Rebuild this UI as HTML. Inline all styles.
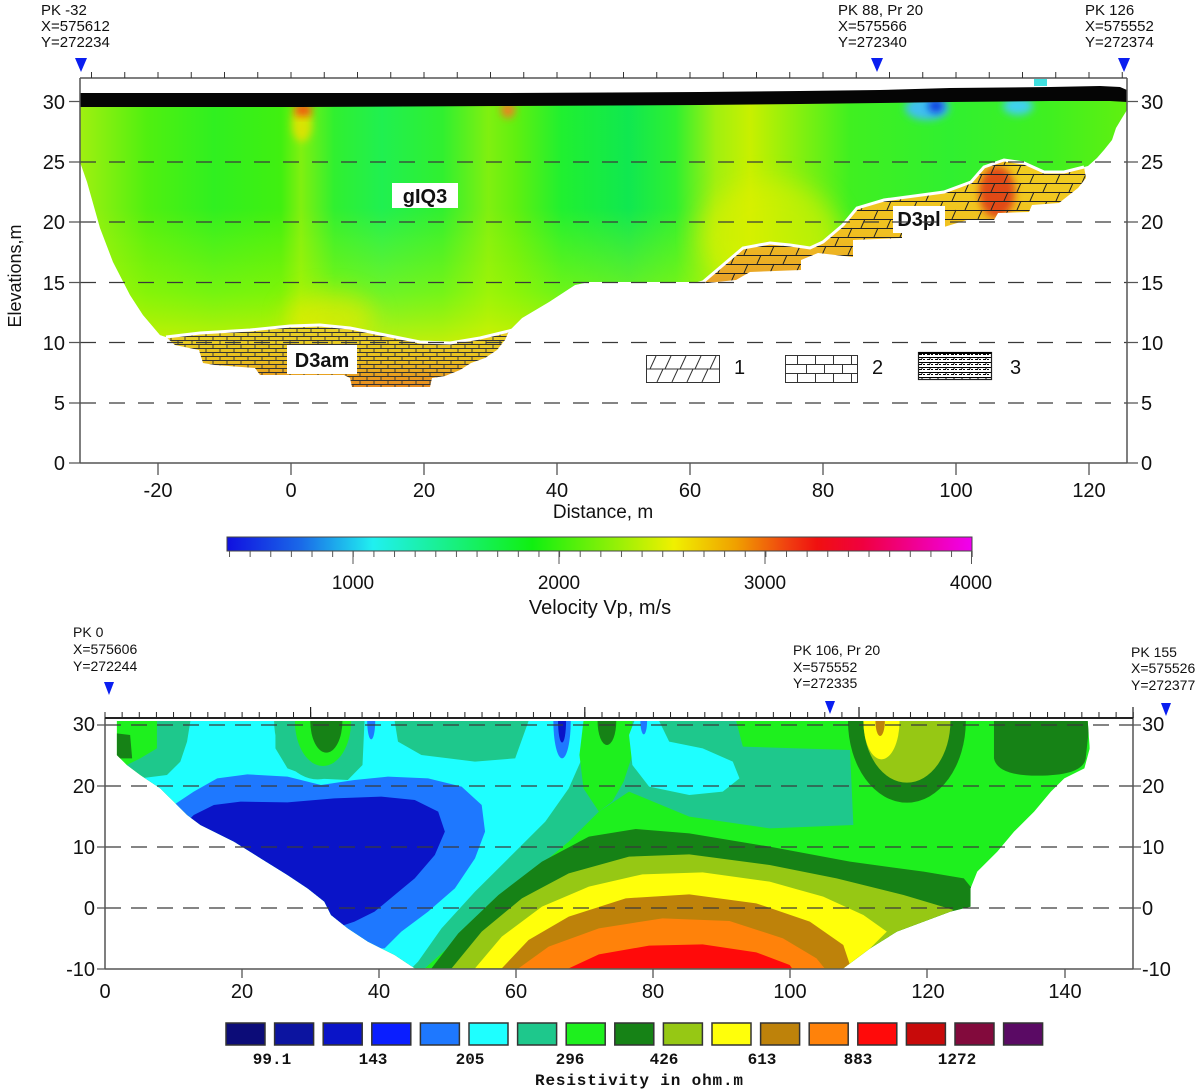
<!DOCTYPE html>
<html><head><meta charset="utf-8"><style>
html,body{margin:0;padding:0;background:#fff;}
svg{display:block;}
text{font-family:"Liberation Sans",Arial,sans-serif;fill:#111;}
.m{font-family:"Liberation Mono",monospace;font-weight:bold;}
</style></head><body>
<svg width="1200" height="1092" viewBox="0 0 1200 1092" xmlns="http://www.w3.org/2000/svg">
<defs>
<linearGradient id="gh" gradientUnits="userSpaceOnUse" x1="80" y1="0" x2="1127" y2="0">
<stop offset="0" stop-color="#a0f010"/><stop offset="0.064" stop-color="#50f010"/><stop offset="0.128" stop-color="#30f020"/>
<stop offset="0.192" stop-color="#40f010"/><stop offset="0.211" stop-color="#80f010"/><stop offset="0.243" stop-color="#30f030"/>
<stop offset="0.288" stop-color="#20f050"/><stop offset="0.346" stop-color="#30f030"/><stop offset="0.39" stop-color="#80f010"/>
<stop offset="0.416" stop-color="#60f010"/><stop offset="0.46" stop-color="#20f030"/><stop offset="0.524" stop-color="#10e850"/>
<stop offset="0.569" stop-color="#30f030"/><stop offset="0.607" stop-color="#a0f010"/><stop offset="0.64" stop-color="#c8f000"/>
<stop offset="0.69" stop-color="#80f010"/><stop offset="0.735" stop-color="#40f020"/><stop offset="0.831" stop-color="#30f030"/>
<stop offset="0.927" stop-color="#40f020"/><stop offset="1" stop-color="#60f010"/>
</linearGradient>
<linearGradient id="gv" gradientUnits="userSpaceOnUse" x1="0" y1="100" x2="0" y2="340">
<stop offset="0" stop-color="#c0f800" stop-opacity="0"/><stop offset="0.45" stop-color="#c0f800" stop-opacity="0"/>
<stop offset="0.8" stop-color="#b8f800" stop-opacity="0.5"/><stop offset="1" stop-color="#e0f000" stop-opacity="0.8"/>
</linearGradient>
<linearGradient id="gam" x1="0" y1="0" x2="0" y2="1">
<stop offset="0" stop-color="#e8d428"/><stop offset="0.55" stop-color="#e8c020"/><stop offset="1" stop-color="#e88a20"/>
</linearGradient>
<linearGradient id="gpl" x1="0" y1="0" x2="0" y2="1">
<stop offset="0" stop-color="#f0d020"/><stop offset="0.6" stop-color="#f0c020"/><stop offset="1" stop-color="#e8a028"/>
</linearGradient>
<linearGradient id="cbar" x1="0" y1="0" x2="1" y2="0">
<stop offset="0" stop-color="#1010e0"/><stop offset="0.1" stop-color="#1a6ae8"/><stop offset="0.196" stop-color="#20f0f0"/>
<stop offset="0.41" stop-color="#10f010"/><stop offset="0.6" stop-color="#f0f000"/><stop offset="0.683" stop-color="#f0a000"/>
<stop offset="0.752" stop-color="#f04010"/><stop offset="0.792" stop-color="#f01010"/><stop offset="0.854" stop-color="#f00040"/>
<stop offset="1" stop-color="#f000f0"/>
</linearGradient>
<filter id="bl" x="-50%" y="-50%" width="200%" height="200%"><feGaussianBlur stdDeviation="4"/></filter>
<filter id="bl2" x="-50%" y="-50%" width="200%" height="200%"><feGaussianBlur stdDeviation="12"/></filter>
<pattern id="p1" patternUnits="userSpaceOnUse" width="26" height="18" x="0" y="3">
<path d="M0,0.5H26M0,9.5H26M3,9L7,0M16,18L20,9" stroke="#222" stroke-width="1" fill="none"/></pattern>
<pattern id="p3" patternUnits="userSpaceOnUse" width="14" height="8" x="0" y="0">
<path d="M0,0.5H14M0,4.5H14M3,0.5V4.5M10,4.5V8.5" stroke="#333" stroke-width="0.9" fill="none"/></pattern>
<pattern id="p4" patternUnits="userSpaceOnUse" width="8" height="5" x="918" y="352">
<rect width="8" height="5" fill="#fff"/><path d="M0,0.5H8M1,2.5H4M5,2.5H7M4,0V2" stroke="#000" stroke-width="1"/></pattern>
<pattern id="tk1" patternUnits="userSpaceOnUse" width="33.25" height="10" x="91" y="0">
<rect x="0" y="0" width="1" height="10" fill="#333"/></pattern>
<pattern id="tk2" patternUnits="userSpaceOnUse" width="17.1375" height="10" x="104.5" y="0">
<rect x="0" y="0" width="1" height="10" fill="#222"/></pattern>
<pattern id="tk3" patternUnits="userSpaceOnUse" width="20.63" height="10" x="229" y="0">
<rect x="0" y="0" width="1" height="10" fill="#555"/></pattern>
<clipPath id="cg"><polygon points="80,100 1127,98 1127,110 1122,118 1116,128 1112,140 1104,150 1097,158 1088,166 1084,167 1064,172 1044,172 1024,163 1004,160 984,167 971,182 944,192 884,200 857,208 843,225 823,242 810,248 790,245 770,243 743,248 723,265 703,282 589,282 575,285 549,302 522,318 509,331 480,338 450,343 420,342 380,334 350,328 320,325 290,326 250,330 200,333 166,337 160,335 143,315 130,295 113,262 100,228 87,182 80,162"/></clipPath>
<clipPath id="cpl"><polygon points="703,282 723,265 743,248 770,243 790,245 810,248 823,242 843,225 857,208 884,200 944,192 971,182 984,167 1004,160 1024,163 1044,172 1064,172 1084,167 1086,178 1078,188 1059,203 1032,205 1029,212 998,213 994,220 967,220 944,227 902,228 902,238 853,240 853,257 818,253 801,260 801,270 750,272 736,280 707,283"/></clipPath>
<clipPath id="cb"><polygon points="25,18 1475,18 1478,100 1470,160 1440,190 1420,230 1395,290 1365,350 1340,410 1310,470 1300,520 1300,575 1270,590 1230,620 1190,650 1150,700 1110,760 470,760 440,720 400,680 370,640 345,600 335,560 310,520 280,480 240,430 200,380 170,350 150,330 130,300 110,260 90,220 60,180 40,150 25,120"/></clipPath>
</defs>

<!-- ===== TOP CHART ===== -->
<text x="41" y="15" font-size="15">PK -32</text>
<text x="41" y="31" font-size="15">X=575612</text>
<text x="41" y="47" font-size="15">Y=272234</text>
<text x="838" y="15" font-size="15">PK 88, Pr 20</text>
<text x="838" y="31" font-size="15">X=575566</text>
<text x="838" y="47" font-size="15">Y=272340</text>
<text x="1085" y="15" font-size="15">PK 126</text>
<text x="1085" y="31" font-size="15">X=575552</text>
<text x="1085" y="47" font-size="15">Y=272374</text>
<polygon points="75,58 87,58 81,72" fill="#0a1ef0"/>
<polygon points="871,58 883,58 877,72" fill="#0a1ef0"/>
<polygon points="1118,58 1130,58 1124,72" fill="#0a1ef0"/>

<!-- green field -->
<g clip-path="url(#cg)">
<rect x="80" y="95" width="1050" height="250" fill="url(#gh)"/>
<rect x="80" y="95" width="1050" height="250" fill="url(#gv)"/>
<ellipse cx="770" cy="235" rx="70" ry="55" fill="#e0f000" opacity="0.6" filter="url(#bl2)"/>
<ellipse cx="330" cy="318" rx="45" ry="25" fill="#f0e800" opacity="0.6" filter="url(#bl2)"/>
<ellipse cx="302" cy="124" rx="10" ry="18" fill="#f0e000" opacity="0.8" filter="url(#bl)"/>
<rect x="295" y="104" width="16" height="12" fill="#f05a10" filter="url(#bl)"/>
<ellipse cx="508" cy="110" rx="7" ry="8" fill="#f08020" filter="url(#bl)"/>
<ellipse cx="927" cy="108" rx="22" ry="12" fill="#40c0f0" filter="url(#bl)"/>
<ellipse cx="936" cy="106" rx="8" ry="7" fill="#1040e0" filter="url(#bl)"/>
<ellipse cx="1018" cy="106" rx="15" ry="9" fill="#40d0f0" filter="url(#bl)"/>
</g>
<rect x="1034" y="79" width="13" height="7" fill="#40e0e0"/>

<!-- D3pl -->
<g clip-path="url(#cpl)">
<rect x="700" y="155" width="390" height="130" fill="url(#gpl)"/>
<ellipse cx="997" cy="192" rx="18" ry="26" fill="#e04818" filter="url(#bl)"/>
<rect x="700" y="155" width="390" height="130" fill="url(#p1)"/>
</g>
<polyline points="696,284 703,282 723,265 743,248 770,243 790,245 810,248 823,242 843,225 857,208 884,200 944,192 971,182 984,167 1004,160 1024,163 1044,172 1064,172 1084,167" fill="none" stroke="#fff" stroke-width="3"/>

<!-- D3am -->
<polygon points="166,337 200,333 250,330 290,326 320,325 350,328 380,334 420,342 450,343 480,338 509,331 505,340 497,350 485,358 471,363 460,370 445,376 432,378 430,387 352,387 350,378 344,375 260,375 255,368 215,365 203,363 199,350 175,345" fill="url(#gam)"/>
<polygon points="166,337 200,333 250,330 290,326 320,325 350,328 380,334 420,342 450,343 480,338 509,331 505,340 497,350 485,358 471,363 460,370 445,376 432,378 430,387 352,387 350,378 344,375 260,375 255,368 215,365 203,363 199,350 175,345" fill="url(#p3)"/>
<polyline points="166,337 200,333 250,330 290,326 320,325 350,328 380,334 420,342 450,343 480,338 509,331 520,328" fill="none" stroke="#fff" stroke-width="3"/>

<!-- black band -->
<polygon points="80,93 300,93 500,93 700,92 800,91 880,90 950,88 1050,87 1100,86 1120,87 1127,90 1127,102 1110,101 1050,101 950,102 880,103 800,104 700,105 500,106 300,107 80,107" fill="#050505"/>

<!-- labels -->
<rect x="392" y="183" width="66" height="25" fill="#fff"/>
<text x="425" y="203" font-size="20" font-weight="bold" text-anchor="middle">gIQ3</text>
<rect x="893" y="206" width="52" height="27" fill="#fff"/>
<text x="919" y="226" font-size="20" font-weight="bold" text-anchor="middle">D3pl</text>
<rect x="287" y="345" width="70" height="29" fill="#fff"/>
<text x="322" y="367" font-size="20" font-weight="bold" text-anchor="middle">D3am</text>

<!-- grid dashes -->
<g stroke="#3a3a3a" stroke-width="1.2" stroke-dasharray="16 13">
<line x1="80" y1="162" x2="1127" y2="162"/><line x1="80" y1="222" x2="1127" y2="222"/>
<line x1="80" y1="282.5" x2="1127" y2="282.5"/><line x1="80" y1="342.5" x2="1127" y2="342.5"/>
<line x1="80" y1="403" x2="1127" y2="403"/>
</g>

<!-- legend -->
<rect x="646.5" y="355.5" width="73" height="27" fill="#fff" stroke="#333"/>
<path d="M646.5,369H719.5M650,369L656,356M665,369L671,356M680,369L686,356M695,369L701,356M710,369L716,356M657,382L663,369M672,382L678,369M687,382L693,369M702,382L708,369" stroke="#333" stroke-width="1" fill="none"/>
<text x="734" y="374" font-size="20">1</text>
<rect x="785.5" y="355.5" width="72" height="27" fill="#fff" stroke="#333"/>
<path d="M785.5,364.5H857.5M785.5,373.5H857.5M797.5,355.5V364.5M815.5,355.5V364.5M833.5,355.5V364.5M851.5,355.5V364.5M806.5,364.5V373.5M824.5,364.5V373.5M842.5,364.5V373.5M797.5,373.5V382.5M815.5,373.5V382.5M833.5,373.5V382.5M851.5,373.5V382.5" stroke="#333" stroke-width="1" fill="none"/>
<text x="872" y="374" font-size="20">2</text>
<rect x="918.5" y="352.5" width="73" height="27" fill="url(#p4)" stroke="#222" stroke-width="1.2"/>
<line x1="918.5" y1="353" x2="991.5" y2="353" stroke="#000" stroke-width="2"/>
<text x="1010" y="374" font-size="20">3</text>

<!-- frame top chart -->
<g stroke="#555" stroke-width="1.5" fill="none">
<line x1="80" y1="78" x2="1127" y2="78"/>
<line x1="80" y1="78" x2="80" y2="463"/>
<line x1="1127" y1="78" x2="1127" y2="463"/>
<line x1="80" y1="463" x2="1127" y2="463"/>
</g>
<rect x="88" y="72" width="1039" height="6" fill="url(#tk1)"/>
<g stroke="#555" stroke-width="1.3">
<path d="M69,101.5H80M69,162H80M69,222H80M69,282.5H80M69,342.5H80M69,403H80M69,463H80"/>
<path d="M1127,101.5H1138M1127,162H1138M1127,222H1138M1127,282.5H1138M1127,342.5H1138M1127,403H1138M1127,463H1138"/>
<path d="M158,463V475M291,463V475M424,463V475M557,463V475M690,463V475M823,463V475M956,463V475M1089,463V475"/>
</g>
<g font-size="20" text-anchor="end">
<text x="65" y="109">30</text><text x="65" y="169">25</text><text x="65" y="229">20</text>
<text x="65" y="290">15</text><text x="65" y="350">10</text><text x="65" y="410">5</text><text x="65" y="470">0</text>
</g>
<g font-size="20">
<text x="1141" y="109">30</text><text x="1141" y="169">25</text><text x="1141" y="229">20</text>
<text x="1141" y="290">15</text><text x="1141" y="350">10</text><text x="1141" y="410">5</text><text x="1141" y="470">0</text>
</g>
<g font-size="20" text-anchor="middle">
<text x="158" y="497">-20</text><text x="291" y="497">0</text><text x="424" y="497">20</text><text x="557" y="497">40</text>
<text x="690" y="497">60</text><text x="823" y="497">80</text><text x="956" y="497">100</text><text x="1089" y="497">120</text>
</g>
<text x="603" y="518" font-size="19" text-anchor="middle">Distance, m</text>
<text x="0" y="0" font-size="18" text-anchor="middle" transform="translate(21,276) rotate(-90)">Elevations,m</text>

<!-- velocity colorbar -->
<rect x="227" y="537" width="745" height="14" fill="url(#cbar)" stroke="#444" stroke-width="1"/>
<rect x="229" y="551" width="745" height="6" fill="url(#tk3)"/>
<path d="M353,551V564M559,551V564M765,551V564M971.5,551V564" stroke="#555" stroke-width="1"/>
<g font-size="19" text-anchor="middle">
<text x="353" y="589">1000</text><text x="559" y="589">2000</text><text x="765" y="589">3000</text><text x="971" y="589">4000</text>
</g>
<text x="600" y="614" font-size="20" text-anchor="middle">Velocity Vp, m/s</text>

<!-- ===== BOTTOM CHART ===== -->
<text x="73" y="637" font-size="14">PK 0</text>
<text x="73" y="654" font-size="14">X=575606</text>
<text x="73" y="671" font-size="14">Y=272244</text>
<text x="793" y="655" font-size="14">PK 106, Pr 20</text>
<text x="793" y="672" font-size="14">X=575552</text>
<text x="793" y="688" font-size="14">Y=272335</text>
<text x="1131" y="657" font-size="14">PK 155</text>
<text x="1131" y="673" font-size="14">X=575526</text>
<text x="1131" y="690" font-size="14">Y=272377</text>
<polygon points="104,682 114,682 109,695" fill="#0a1ef0"/>
<polygon points="825,701 835,701 830,714" fill="#0a1ef0"/>
<polygon points="1161,703 1171,703 1166,716" fill="#0a1ef0"/>

<g transform="translate(100,715) scale(0.66964,0.33333)">
<g clip-path="url(#cb)">
<rect x="0" y="0" width="1568" height="800" fill="#1ef01e"/>
<path d="M25,55 L45,60 L48,130 L25,130Z" fill="#168216"/>
<polygon points="85,18 950,18 960,95 1120,105 1125,330 1000,340 880,305 790,230 745,290 700,380 640,480 580,580 530,680 485,760 440,760 40,150 60,130 85,100" fill="#1ec88c"/>
<polygon points="135,18 262,18 262,100 280,160 320,190 370,195 392,150 395,18 440,18 445,80 480,120 560,140 620,130 640,18 722,18 722,120 700,220 665,320 615,420 560,530 510,640 475,740 465,760 440,760 60,190 100,180 120,140 130,80" fill="#1effff"/>
<polygon points="110,270 140,230 175,190 220,178 280,185 330,210 380,195 430,185 490,190 540,215 570,270 575,350 560,430 530,520 490,590 450,650 425,700 380,700 100,300" fill="#1e78ff"/>
<polygon points="140,300 170,270 210,260 280,262 350,250 420,245 470,255 505,290 515,350 500,420 470,490 440,540 410,590 380,620 350,640 300,520 130,320" fill="#0a14c8"/>
<ellipse cx="325" cy="18" rx="65" ry="175" fill="#1ec88c"/>
<ellipse cx="333" cy="18" rx="42" ry="135" fill="#1ef01e"/>
<ellipse cx="338" cy="18" rx="24" ry="95" fill="#168216"/>
<ellipse cx="405" cy="18" rx="6" ry="55" fill="#1e78ff"/>
<ellipse cx="690" cy="18" rx="13" ry="112" fill="#1e78ff"/>
<ellipse cx="690" cy="18" rx="6" ry="65" fill="#0a14c8"/>
<polygon points="722,18 795,18 795,120 782,200 765,260 745,290 722,220 716,120" fill="#1ef01e"/>
<ellipse cx="757" cy="18" rx="14" ry="72" fill="#168216"/>
<polygon points="798,18 835,18 850,80 900,100 945,140 955,190 930,230 880,240 820,215 795,150 790,60" fill="#1effff"/>
<ellipse cx="812" cy="18" rx="5" ry="40" fill="#1e78ff"/>
<ellipse cx="1205" cy="18" rx="88" ry="245" fill="#168216"/>
<ellipse cx="1205" cy="18" rx="65" ry="185" fill="#96c814"/>
<ellipse cx="1167" cy="18" rx="27" ry="115" fill="#ffff0a"/>
<ellipse cx="1165" cy="18" rx="7" ry="45" fill="#be820a"/>
<path d="M1335,18 L1335,130 Q1340,182 1400,182 Q1468,182 1472,130 L1478,18Z" fill="#168216"/>
<polygon points="495,760 535,655 595,540 660,440 730,365 800,342 880,355 1000,395 1120,440 1230,470 1290,490 1310,540 1305,600 1250,640 1150,730 1120,780 495,780" fill="#168216"/>
<polygon points="525,760 570,650 630,550 700,475 790,425 880,418 1000,450 1100,490 1200,540 1275,585 1200,660 1130,740 1120,780 525,780" fill="#96c814"/>
<polygon points="560,760 600,665 660,575 730,515 810,478 900,472 1000,500 1080,545 1140,600 1175,650 1140,720 1120,780 560,780" fill="#ffff0a"/>
<polygon points="600,760 640,675 700,605 785,550 880,538 980,565 1060,620 1110,690 1125,780 600,780" fill="#be820a"/>
<polygon points="625,760 670,695 745,640 840,610 940,618 1020,670 1070,730 1090,780 625,780" fill="#ff820a"/>
<polygon points="700,760 745,718 820,692 900,688 980,712 1030,750 1040,780 700,780" fill="#ff0a0a"/>
</g>
</g>

<g stroke="#3a3a3a" stroke-width="1.2" stroke-dasharray="16 10">
<line x1="105" y1="725" x2="1133" y2="725"/><line x1="105" y1="786" x2="1133" y2="786"/>
<line x1="105" y1="847" x2="1133" y2="847"/><line x1="105" y1="908" x2="1133" y2="908"/>
</g>
<g stroke="#555" stroke-width="1.5" fill="none">
<line x1="105" y1="718" x2="105" y2="969"/>
<line x1="1133" y1="718" x2="1133" y2="969"/>
<line x1="105" y1="969" x2="1133" y2="969"/>
</g>
<line x1="105" y1="718" x2="1133" y2="718" stroke="#222" stroke-width="2"/>
<rect x="104" y="712" width="1031" height="6" fill="url(#tk2)"/>
<path d="M310.6,707V718M584.8,707V718M859,707V718M1133,707V718" stroke="#222" stroke-width="1.2"/>
<g stroke="#555" stroke-width="1.3">
<path d="M97,725H105M97,786H105M97,847H105M97,908H105M97,969H105"/>
<path d="M1133,725H1141M1133,786H1141M1133,847H1141M1133,908H1141M1133,969H1141"/>
<path d="M242,969V978M379,969V978M516,969V978M653,969V978M790,969V978M927,969V978M1065,969V978"/>
</g>
<g font-size="20" text-anchor="end">
<text x="95" y="731">30</text><text x="95" y="793">20</text><text x="95" y="854">10</text>
<text x="95" y="915">0</text><text x="95" y="976">-10</text>
</g>
<g font-size="20">
<text x="1142" y="731">30</text><text x="1142" y="793">20</text><text x="1142" y="854">10</text>
<text x="1142" y="915">0</text><text x="1142" y="976">-10</text>
</g>
<g font-size="20" text-anchor="middle">
<text x="105" y="998">0</text><text x="242" y="998">20</text><text x="379" y="998">40</text><text x="516" y="998">60</text>
<text x="653" y="998">80</text><text x="790" y="998">100</text><text x="928" y="998">120</text><text x="1065" y="998">140</text>
</g>

<!-- resistivity legend -->
<g stroke="#333" stroke-width="1.5">
<rect x="226" y="1023" width="39" height="22" fill="#0c0c78"/>
<rect x="274.6" y="1023" width="39" height="22" fill="#0c14a0"/>
<rect x="323.2" y="1023" width="39" height="22" fill="#0a14c8"/>
<rect x="371.8" y="1023" width="39" height="22" fill="#0a1eff"/>
<rect x="420.4" y="1023" width="39" height="22" fill="#1e78ff"/>
<rect x="469" y="1023" width="39" height="22" fill="#1effff"/>
<rect x="517.6" y="1023" width="39" height="22" fill="#1ec88c"/>
<rect x="566.2" y="1023" width="39" height="22" fill="#1ef01e"/>
<rect x="614.8" y="1023" width="39" height="22" fill="#168216"/>
<rect x="663.4" y="1023" width="39" height="22" fill="#96c814"/>
<rect x="712" y="1023" width="39" height="22" fill="#ffff0a"/>
<rect x="760.6" y="1023" width="39" height="22" fill="#be820a"/>
<rect x="809.2" y="1023" width="39" height="22" fill="#ff820a"/>
<rect x="857.8" y="1023" width="39" height="22" fill="#ff0a0a"/>
<rect x="906.4" y="1023" width="39" height="22" fill="#c80a0a"/>
<rect x="955" y="1023" width="39" height="22" fill="#820a3c"/>
<rect x="1003.6" y="1023" width="39" height="22" fill="#5a0a64"/>
</g>
<g class="m" font-size="16" text-anchor="middle">
<text class="m" x="272" y="1064">99.1</text><text class="m" x="373" y="1064">143</text>
<text class="m" x="470" y="1064">205</text><text class="m" x="570" y="1064">296</text>
<text class="m" x="664" y="1064">426</text><text class="m" x="762" y="1064">613</text>
<text class="m" x="858" y="1064">883</text><text class="m" x="957" y="1064">1272</text>
</g>
<text class="m" x="639" y="1085" font-size="16" text-anchor="middle" textLength="208">Resistivity in ohm.m</text>
</svg>
</body></html>
